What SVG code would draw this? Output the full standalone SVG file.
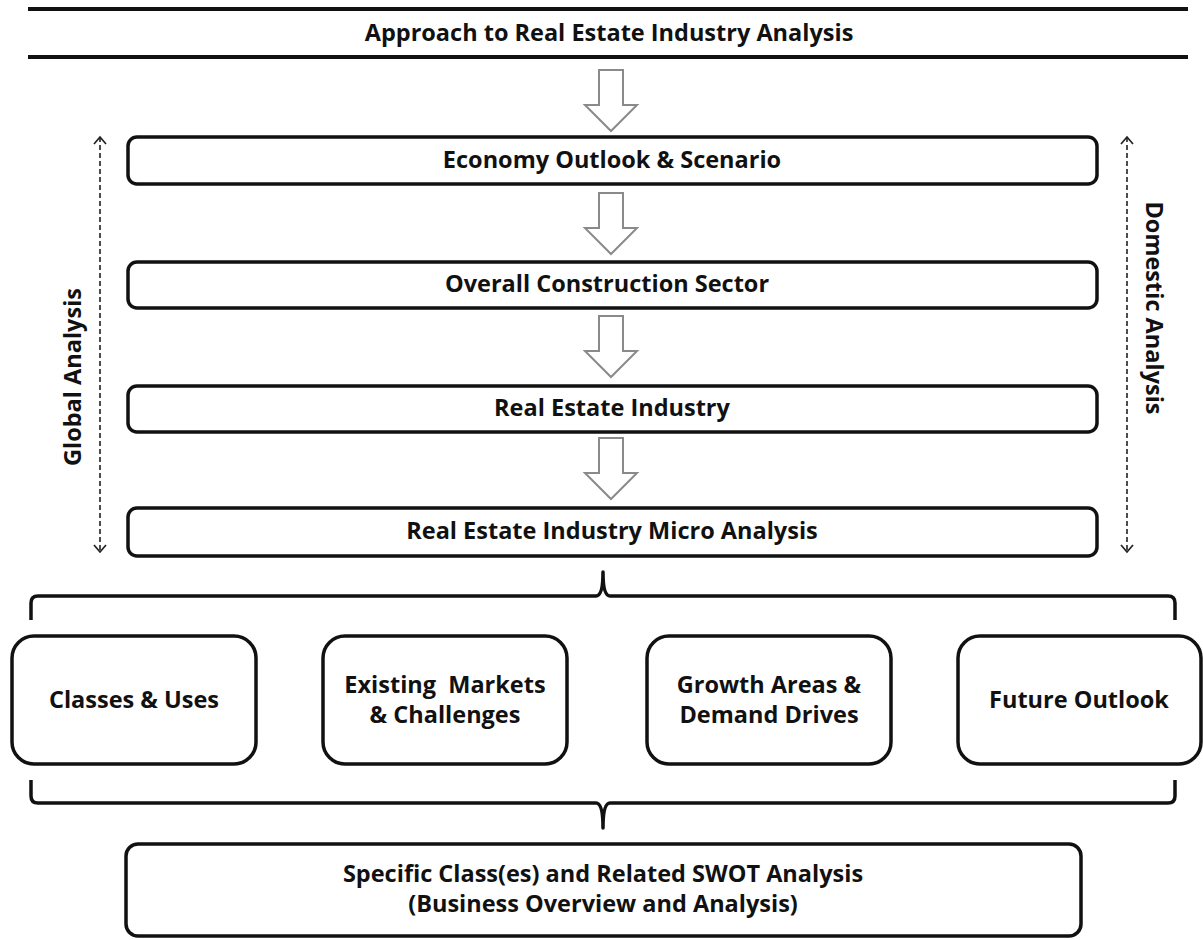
<svg xmlns="http://www.w3.org/2000/svg" width="1203" height="940" viewBox="0 0 1203 940">
<defs>
<style>
.t{font-family:"Open Sans","Liberation Sans",sans-serif;font-weight:700;font-size:23.5px;fill:#111;text-anchor:middle}
.box{fill:#fff;stroke:#111;stroke-width:3.5}
.harrow{fill:#fff;stroke:#8a8a8a;stroke-width:2}
.dash{fill:none;stroke:#222;stroke-width:1.6;stroke-dasharray:5,3}
.brace{fill:none;stroke:#111;stroke-width:3.5;stroke-linejoin:round}
.rule{stroke:#111;stroke-width:4}
</style>
<marker id="chev" viewBox="0 0 14 14" refX="12" refY="7" markerWidth="14" markerHeight="14" markerUnits="userSpaceOnUse" orient="auto-start-reverse">
<path d="M5,1 L12,7 L5,13" fill="none" stroke="#222" stroke-width="1.7"/>
</marker>
<path id="ha" d="M-12,0 H12 V35 H26 L0,61 L-26,35 H-12 Z"/>
</defs>
<rect width="1203" height="940" fill="#fff"/>
<g id="title">
<line class="rule" x1="28" y1="9" x2="1188" y2="9"/>
<line class="rule" x1="28" y1="57" x2="1188" y2="57"/>
<text class="t" x="609" y="41">Approach to Real Estate Industry Analysis</text>
</g>
<g id="connectors">
<use href="#ha" class="harrow" x="611" y="70"/>
<use href="#ha" class="harrow" x="611" y="193"/>
<use href="#ha" class="harrow" x="611" y="316"/>
<use href="#ha" class="harrow" x="611" y="438"/>
<line class="dash" x1="100" y1="137" x2="100" y2="552" marker-start="url(#chev)" marker-end="url(#chev)"/>
<line class="dash" x1="1127" y1="137" x2="1127" y2="552" marker-start="url(#chev)" marker-end="url(#chev)"/>
<path class="brace" d="M31,620 V603 Q31,596 38,596 H596 Q603,596 603,572 Q603,596 610,596 H1168 Q1175,596 1175,603 V620"/>
<path class="brace" d="M31,780 V796 Q31,803 38,803 H596 Q603,803 603,828 Q603,803 610,803 H1168 Q1175,803 1175,796 V780"/>
</g>
<g id="economy">
<rect class="box" x="128" y="137" width="969" height="47" rx="9"/>
<text class="t" x="612" y="168">Economy Outlook &amp; Scenario</text>
</g>
<g id="construction">
<rect class="box" x="128" y="262" width="969" height="46" rx="9"/>
<text class="t" x="607" y="292">Overall Construction Sector</text>
</g>
<g id="realestate">
<rect class="box" x="128" y="386" width="969" height="46" rx="9"/>
<text class="t" x="612" y="416">Real Estate Industry</text>
</g>
<g id="micro">
<rect class="box" x="128" y="508" width="969" height="48" rx="9"/>
<text class="t" x="612" y="539">Real Estate Industry Micro Analysis</text>
</g>
<g id="global">
<text class="t" transform="translate(81,377) rotate(-90)">Global Analysis</text>
</g>
<g id="domestic">
<text class="t" transform="translate(1146,308) rotate(90)">Domestic Analysis</text>
</g>
<g id="classes">
<rect class="box" x="12" y="636" width="244" height="128" rx="22"/>
<text class="t" x="134" y="708">Classes &amp; Uses</text>
</g>
<g id="markets">
<rect class="box" x="323" y="636" width="244" height="128" rx="22"/>
<text class="t" x="445" y="693" xml:space="preserve">Existing  Markets</text>
<text class="t" x="445" y="723">&amp; Challenges</text>
</g>
<g id="growth">
<rect class="box" x="647" y="636" width="244" height="128" rx="22"/>
<text class="t" x="769" y="693">Growth Areas &amp;</text>
<text class="t" x="769" y="723">Demand Drives</text>
</g>
<g id="future">
<rect class="box" x="958" y="636" width="243" height="128" rx="22"/>
<text class="t" x="1079" y="708">Future Outlook</text>
</g>
<g id="swot">
<rect class="box" x="126" y="844" width="955" height="92" rx="12"/>
<text class="t" x="603" y="882">Specific Class(es) and Related SWOT Analysis</text>
<text class="t" x="603" y="912">(Business Overview and Analysis)</text>
</g>
</svg>
